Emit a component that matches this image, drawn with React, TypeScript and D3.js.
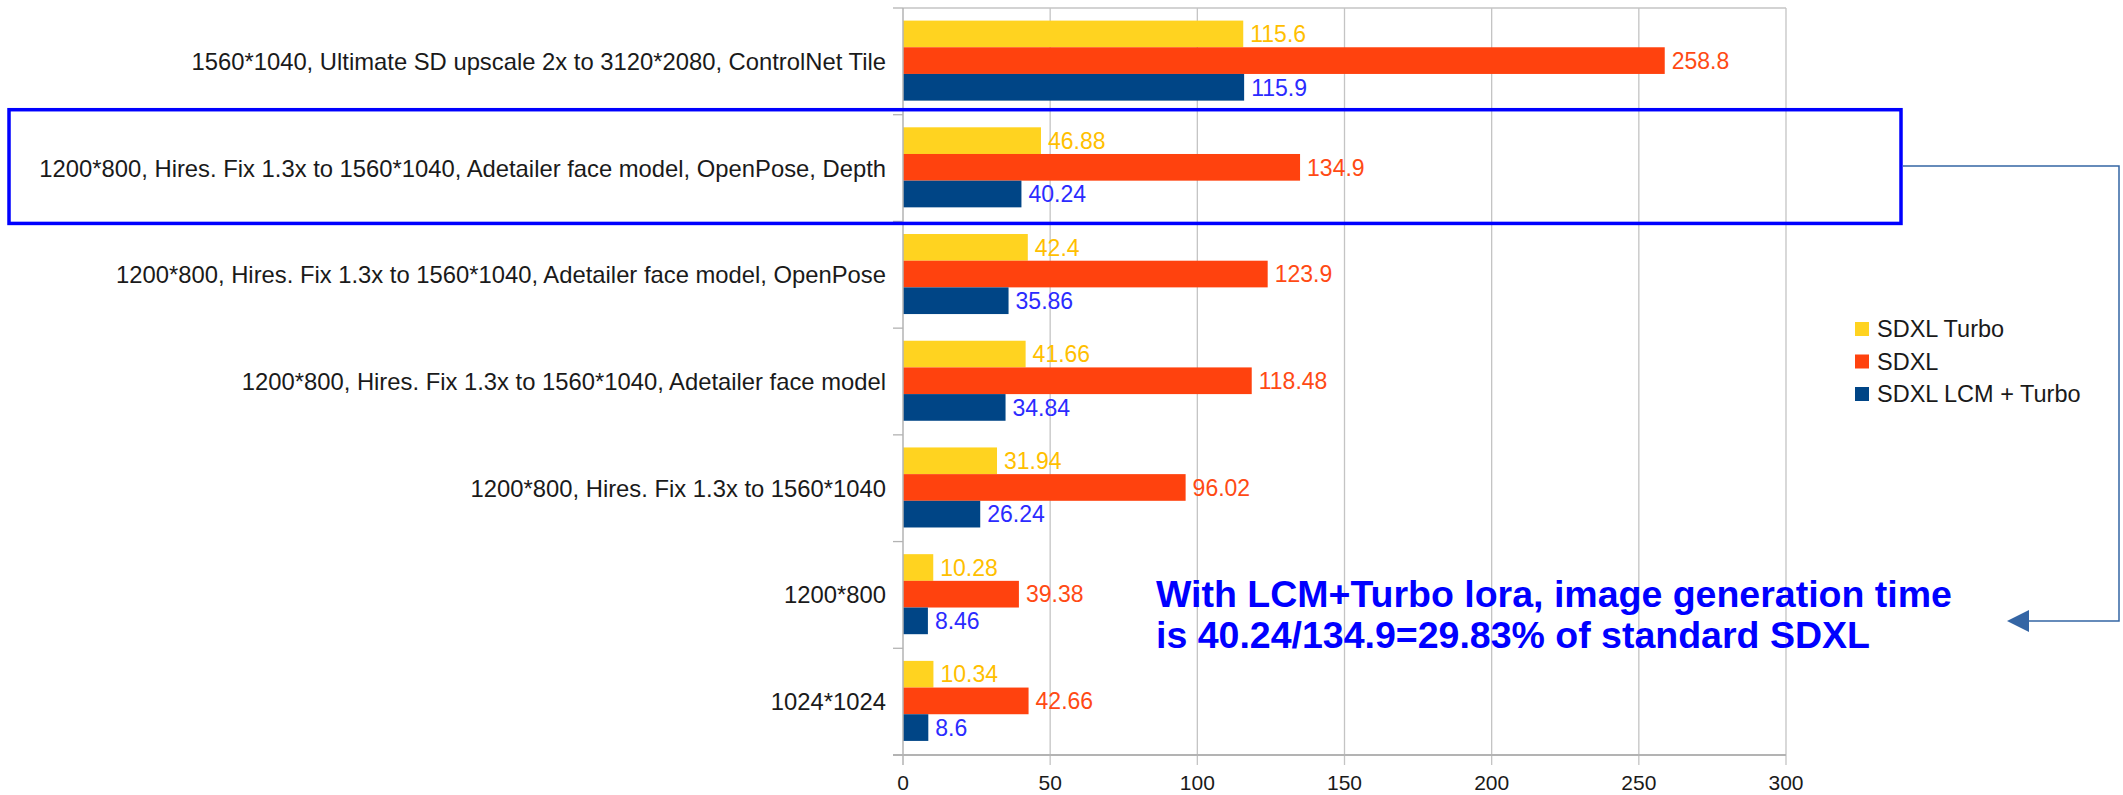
import React from 'react';
import * as d3 from 'd3';

// chart data
const categories = [
  '1560*1040, Ultimate SD upscale 2x to 3120*2080, ControlNet Tile',
  '1200*800, Hires. Fix 1.3x to 1560*1040, Adetailer face model, OpenPose, Depth',
  '1200*800, Hires. Fix 1.3x to 1560*1040, Adetailer face model, OpenPose',
  '1200*800, Hires. Fix 1.3x to 1560*1040, Adetailer face model',
  '1200*800, Hires. Fix 1.3x to 1560*1040',
  '1200*800',
  '1024*1024',
];
const seriesNames = ['SDXL Turbo', 'SDXL', 'SDXL LCM + Turbo'];
const sdxlTurbo = [115.6, 46.88, 42.4, 41.66, 31.94, 10.28, 10.34];
const sdxl = [258.8, 134.9, 123.9, 118.48, 96.02, 39.38, 42.66];
const sdxlLcmTurbo = [115.9, 40.24, 35.86, 34.84, 26.24, 8.46, 8.6];
const xTicks = [0, 50, 100, 150, 200, 250, 300];
const noteLines = [
  'With LCM+Turbo lora, image generation time',
  'is 40.24/134.9=29.83% of standard SDXL',
];

const barColors = ['#ffd320', '#ff420e', '#004586'];
const labelColors = ['#ffbf00', '#ff4a14', '#2b2bff'];
const FONT = '"Liberation Sans", Arial, sans-serif';

const W = 2123;
const H = 795;
const margin = { top: 8, left: 903, right: 2123 - 1786, bottom: 795 - 755 };

const App = () => {
  const series = [sdxlTurbo, sdxl, sdxlLcmTurbo];

  const x = d3.scaleLinear().domain([0, 300]).range([margin.left, W - margin.right]);
  const y = d3
    .scaleBand()
    .domain(categories)
    .range([margin.top, H - margin.bottom])
    .padding(0);
  const band = y.bandwidth();
  const inner = d3
    .scaleBand()
    .domain(seriesNames)
    .range([band * 0.118, band * 0.868])
    .padding(0);

  const plotTop = margin.top;
  const plotBottom = H - margin.bottom;
  const plotLeft = margin.left;
  const plotRight = W - margin.right;

  // highlighted category (box + callout)
  const hl = categories[1];
  const boxTop = (y(hl) ?? 0) - 5;
  const boxBottom = (y(hl) ?? 0) + band + 2;
  const boxMid = (boxTop + boxBottom) / 2 - 0.5;

  return (
    <svg
      width={W}
      height={H}
      style={{ position: 'absolute', left: 0, top: 0, display: 'block', background: '#fff' }}
      fontFamily={FONT}
    >
      {/* gridlines */}
      {xTicks.slice(1).map((t) => (
        <line
          key={'g' + t}
          x1={x(t)}
          x2={x(t)}
          y1={plotTop}
          y2={plotBottom + 10}
          stroke="#c4c4c4"
          strokeWidth={1.3}
        />
      ))}
      {/* plot frame top */}
      <line x1={plotLeft} x2={plotRight} y1={plotTop} y2={plotTop} stroke="#c4c4c4" strokeWidth={1.3} />

      {/* category ticks */}
      {categories.map((c) => (
        <line
          key={'t' + c}
          x1={plotLeft - 10}
          x2={plotLeft}
          y1={y(c)}
          y2={y(c)}
          stroke="#b3b3b3"
          strokeWidth={1.3}
        />
      ))}

      {/* bars */}
      {categories.map((c, i) => (
        <g key={'b' + c} transform={`translate(0,${y(c)})`}>
          {series.map((s, k) => (
            <rect
              key={k}
              x={x(0)}
              y={inner(seriesNames[k])}
              width={x(s[i]) - x(0)}
              height={inner.bandwidth()}
              fill={barColors[k]}
            />
          ))}
          {series.map((s, k) => (
            <text
              key={'l' + k}
              x={x(s[i]) + 7}
              y={(inner(seriesNames[k]) ?? 0) + inner.bandwidth() / 2}
              dy="0.36em"
              fontSize={23}
              fill={labelColors[k]}
            >
              {String(s[i])}
            </text>
          ))}
        </g>
      ))}

      {/* axes */}
      <line x1={plotLeft} x2={plotLeft} y1={plotTop} y2={plotBottom + 10} stroke="#b3b3b3" strokeWidth={1.5} />
      <line x1={plotLeft - 10} x2={plotRight} y1={plotBottom} y2={plotBottom} stroke="#b3b3b3" strokeWidth={2} />

      {/* category labels */}
      {categories.map((c) => (
        <text
          key={'c' + c}
          x={plotLeft - 17}
          y={(y(c) ?? 0) + band / 2}
          dy="0.36em"
          textAnchor="end"
          fontSize={23.8}
          fill="#1a1a1a"
        >
          {c}
        </text>
      ))}

      {/* x tick labels */}
      {xTicks.map((t) => (
        <text key={'x' + t} x={x(t)} y={789.5} textAnchor="middle" fontSize={21} fill="#1a1a1a">
          {t}
        </text>
      ))}

      {/* legend */}
      {seriesNames.map((n, k) => (
        <g key={'lg' + n} transform={`translate(1855,${322 + k * 32.5})`}>
          <rect width={14} height={14} fill={barColors[k]} />
          <text x={22} y={7} dy="0.36em" fontSize={23.5} fill="#1a1a1a">
            {n}
          </text>
        </g>
      ))}

      {/* highlight box */}
      <rect
        x={9}
        y={boxTop}
        width={1892}
        height={boxBottom - boxTop}
        fill="none"
        stroke="#0000ff"
        strokeWidth={3.5}
      />

      {/* callout connector */}
      <polyline
        points={`1903,${boxMid} 2119,${boxMid} 2119,621 2028,621`}
        fill="none"
        stroke="#3465a4"
        strokeWidth={1.5}
      />
      <path d="M2007,621 L2029,610 L2029,632 Z" fill="#3465a4" />

      {/* annotation */}
      {noteLines.map((line, i) => (
        <text
          key={'n' + i}
          x={1156}
          y={607 + i * 41}
          fontSize={37.5}
          fontWeight="bold"
          fill="#0000ff"
        >
          {line}
        </text>
      ))}
    </svg>
  );
};

export default App;
